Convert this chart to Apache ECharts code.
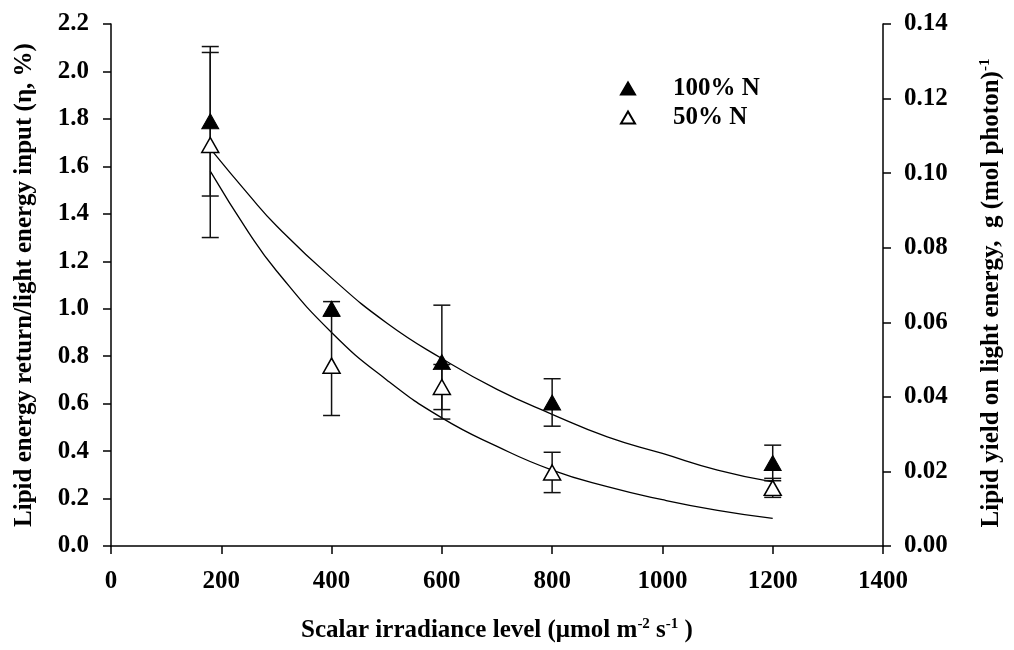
<!DOCTYPE html>
<html>
<head>
<meta charset="utf-8">
<title>Lipid energy return vs scalar irradiance</title>
<script src="https://cdn.jsdelivr.net/npm/echarts@6/dist/echarts.min.js"></script>
<style>
  html, body { margin: 0; padding: 0; background: #ffffff; }
  #chart { width: 1014px; height: 650px; }
</style>
</head>
<body>
<div id="chart"></div>
<script>
// Measured points: scalar irradiance (µmol m-2 s-1)
const irradiance = [180, 400, 600, 800, 1200];

// Lipid energy return / light energy input (η, %), mean and error
const eta100 = [1.79, 1.00, 0.775, 0.605, 0.35];
const err100 = [0.315, 0.03, 0.24, 0.10, 0.075];
const eta50  = [1.69, 0.76, 0.67, 0.31, 0.245];
const err50  = [0.39, 0.21, 0.095, 0.085, 0.04];

// Fitted decay curves
const fitX   = [180, 250, 300, 400, 500, 600, 700, 800, 900, 1000, 1100, 1200];
const fit100 = [1.675, 1.48, 1.35, 1.13, 0.94, 0.79, 0.66, 0.555, 0.46, 0.39, 0.32, 0.27];
const fit50  = [1.58, 1.32, 1.16, 0.90, 0.70, 0.54, 0.42, 0.32, 0.25, 0.195, 0.15, 0.116];

// Series names and axis ranges
const seriesNames = ['100% N', '50% N'];
const xRange = { min: 0, max: 1400, interval: 200 };
const leftRange = { min: 0, max: 2.2, interval: 0.2 };
const rightRange = { min: 0, max: 0.14, interval: 0.02 };

const FONT = '"Liberation Serif", "Times New Roman", serif';
const INK = '#000000';

const labelStyle = { fontFamily: FONT, fontWeight: 'bold', fontSize: 25, color: INK };
const titleStyle = { fontFamily: FONT, fontWeight: 'bold', fontSize: 25, color: INK, lineHeight: 28 };
const supStyle = { fontFamily: FONT, fontWeight: 'bold', fontSize: 15, color: INK, verticalAlign: 'top', lineHeight: 28 };

const axisLine = { show: true, lineStyle: { color: INK, width: 1.5 } };
const axisTick = { show: true, length: 8, lineStyle: { color: INK, width: 1.5 } };

function errorBars(means, errs) {
  return {
    type: 'custom',
    silent: true,
    z: 2,
    encode: { x: 0, y: [1, 2] },
    data: irradiance.map((x, i) => [x, means[i] - errs[i], means[i] + errs[i]]),
    renderItem: function (params, api) {
      const x = api.value(0);
      const lo = api.coord([x, api.value(1)]);
      const hi = api.coord([x, api.value(2)]);
      const half = 8.5;
      const style = { stroke: '#111111', lineWidth: 1.5 };
      return {
        type: 'group',
        children: [
          { type: 'line', shape: { x1: hi[0], y1: hi[1], x2: lo[0], y2: lo[1] }, style: style },
          { type: 'line', shape: { x1: hi[0] - half, y1: hi[1], x2: hi[0] + half, y2: hi[1] }, style: style },
          { type: 'line', shape: { x1: lo[0] - half, y1: lo[1], x2: lo[0] + half, y2: lo[1] }, style: style }
        ]
      };
    }
  };
}

function fitLine(values) {
  return {
    type: 'line',
    silent: true,
    smooth: true,
    symbol: 'none',
    z: 1,
    lineStyle: { color: INK, width: 1.3 },
    data: fitX.map((x, i) => [x, values[i]])
  };
}

const chart = echarts.init(document.getElementById('chart'), null, { renderer: 'canvas' });

chart.setOption({
  animation: false,
  backgroundColor: '#ffffff',
  grid: { left: 111, right: 120, top: 24, bottom: 96, containLabel: false },
  legend: {
    data: seriesNames,
    orient: 'vertical',
    left: 615,
    top: 71,
    itemWidth: 14,
    itemHeight: 12,
    itemGap: 4,
    selectedMode: false,
    textStyle: Object.assign({}, labelStyle, { padding: [0, 0, 0, 33] })
  },
  xAxis: {
    type: 'value',
    min: xRange.min, max: xRange.max, interval: xRange.interval,
    axisLine: axisLine,
    axisTick: axisTick,
    splitLine: { show: false },
    axisLabel: Object.assign({ margin: 23, formatter: v => String(v) }, labelStyle),
    name: 'Scalar irradiance level (μmol m{sup|-2} s{sup|-1} )',
    nameLocation: 'middle',
    nameGap: 71,
    nameTextStyle: Object.assign({}, titleStyle, { rich: { sup: supStyle } })
  },
  yAxis: [
    {
      type: 'value',
      position: 'left',
      min: leftRange.min, max: leftRange.max, interval: leftRange.interval,
      axisLine: axisLine,
      axisTick: axisTick,
      splitLine: { show: false },
      axisLabel: Object.assign({ margin: 22, formatter: v => v.toFixed(1) }, labelStyle),
      name: 'Lipid energy return/light energy input (η, %)',
      nameLocation: 'middle',
      nameRotate: 90,
      nameGap: 72,
      nameTextStyle: Object.assign({}, titleStyle)
    },
    {
      type: 'value',
      position: 'right',
      min: rightRange.min, max: rightRange.max, interval: rightRange.interval,
      axisLine: axisLine,
      axisTick: axisTick,
      splitLine: { show: false },
      axisLabel: Object.assign({ margin: 21, formatter: v => v.toFixed(2) }, labelStyle),
      name: 'Lipid yield on light energy,  g (mol photon){sup|-1}',
      nameLocation: 'middle',
      nameRotate: 90,
      nameGap: 95,
      nameTextStyle: Object.assign({}, titleStyle, { padding: [0, 16, 0, 0], rich: { sup: supStyle } })
    }
  ],
  series: [
    fitLine(fit100),
    fitLine(fit50),
    errorBars(eta100, err100),
    errorBars(eta50, err50),
    {
      name: seriesNames[0],
      type: 'scatter',
      symbol: 'triangle',
      symbolSize: [17, 15],
      z: 4,
      itemStyle: { color: INK, borderColor: INK, borderWidth: 1, opacity: 1 },
      data: irradiance.map((x, i) => [x, eta100[i]])
    },
    {
      name: seriesNames[1],
      type: 'scatter',
      symbol: 'triangle',
      symbolSize: [17, 15],
      z: 3,
      itemStyle: { color: '#ffffff', borderColor: INK, borderWidth: 1.5, opacity: 1 },
      data: irradiance.map((x, i) => [x, eta50[i]])
    }
  ]
});
</script>
</body>
</html>
